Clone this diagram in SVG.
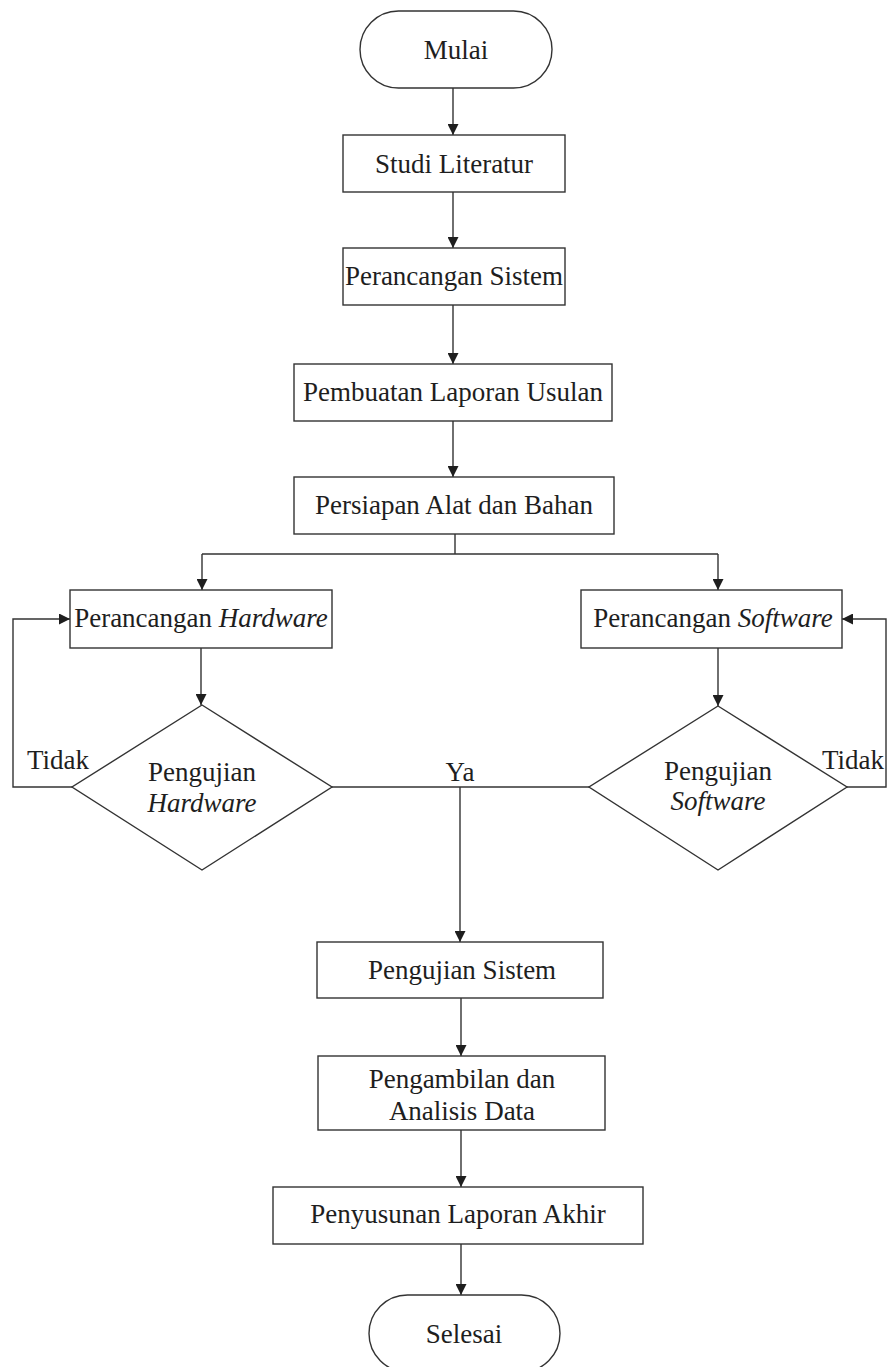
<svg xmlns="http://www.w3.org/2000/svg" width="887" height="1367" viewBox="0 0 887 1367">
<style>
.box{fill:#fff;stroke:#333;stroke-width:1.4}
.ln{fill:none;stroke:#333;stroke-width:1.4}
.t{font-family:"Liberation Serif","Times New Roman",serif;font-size:27px;fill:#1e1e1e;text-anchor:middle}
.it{font-style:italic}
.l{text-anchor:start}
</style>
<defs>
<marker id="ah" markerUnits="userSpaceOnUse" markerWidth="11" markerHeight="11" refX="11" refY="5.5" orient="auto">
<path d="M0,0 L11,5.5 L0,11 z" fill="#1e1e1e"/>
</marker>
</defs>
<rect width="887" height="1367" fill="#fff"/>
<g id="connectors">
<path class="ln" d="M453,88 V135" marker-end="url(#ah)"/>
<path class="ln" d="M453,192 V248" marker-end="url(#ah)"/>
<path class="ln" d="M453,305 V364" marker-end="url(#ah)"/>
<path class="ln" d="M453,421 V477" marker-end="url(#ah)"/>
<path class="ln" d="M455,534 V554 M202,554 H718"/>
<path class="ln" d="M202,554 V590" marker-end="url(#ah)"/>
<path class="ln" d="M718,554 V590" marker-end="url(#ah)"/>
<path class="ln" d="M201,648 V705" marker-end="url(#ah)"/>
<path class="ln" d="M718,648 V706" marker-end="url(#ah)"/>
<path class="ln" d="M72,787 H13 V619 H70" marker-end="url(#ah)"/>
<path class="ln" d="M847,787 H886 V619 H842" marker-end="url(#ah)"/>
<path class="ln" d="M332,787 H589"/>
<path class="ln" d="M460,787 V942" marker-end="url(#ah)"/>
<path class="ln" d="M461,998 V1056" marker-end="url(#ah)"/>
<path class="ln" d="M461,1130 V1187" marker-end="url(#ah)"/>
<path class="ln" d="M461,1244 V1295" marker-end="url(#ah)"/>
<text class="t l" x="27" y="769">Tidak</text>
<text class="t l" x="822" y="769">Tidak</text>
<text class="t" x="460" y="781">Ya</text>
</g>
<g id="mulai">
<rect class="box" x="360" y="11" width="192" height="77" rx="38.5"/>
<text class="t" x="456" y="59">Mulai</text>
</g>
<g id="studi">
<rect class="box" x="343" y="135" width="222" height="57"/>
<text class="t" x="454" y="173">Studi Literatur</text>
</g>
<g id="perancangan-sistem">
<rect class="box" x="343" y="248" width="222" height="57"/>
<text class="t" x="454" y="285">Perancangan Sistem</text>
</g>
<g id="pembuatan">
<rect class="box" x="294" y="364" width="318" height="57"/>
<text class="t" x="453" y="401">Pembuatan Laporan Usulan</text>
</g>
<g id="persiapan">
<rect class="box" x="294" y="477" width="320" height="57"/>
<text class="t" x="454" y="514">Persiapan Alat dan Bahan</text>
</g>
<g id="perancangan-hardware">
<rect class="box" x="70" y="590" width="262" height="58"/>
<text class="t" x="201" y="627">Perancangan <tspan class="it">Hardware</tspan></text>
</g>
<g id="perancangan-software">
<rect class="box" x="581" y="590" width="261" height="58"/>
<text class="t" x="713" y="627">Perancangan <tspan class="it">Software</tspan></text>
</g>
<g id="pengujian-hardware">
<polygon class="box" points="202,705 332,787 202,870 72,787"/>
<text class="t" x="202" y="781">Pengujian</text>
<text class="t it" x="202" y="812">Hardware</text>
</g>
<g id="pengujian-software">
<polygon class="box" points="718,706 847,787 718,870 589,787"/>
<text class="t" x="718" y="780">Pengujian</text>
<text class="t it" x="718" y="810">Software</text>
</g>
<g id="pengujian-sistem">
<rect class="box" x="317" y="942" width="286" height="56"/>
<text class="t" x="462" y="979">Pengujian Sistem</text>
</g>
<g id="pengambilan">
<rect class="box" x="318" y="1056" width="287" height="74"/>
<text class="t" x="462" y="1088">Pengambilan dan</text>
<text class="t" x="462" y="1120">Analisis Data</text>
</g>
<g id="penyusunan">
<rect class="box" x="273" y="1187" width="370" height="57"/>
<text class="t" x="458" y="1223">Penyusunan Laporan Akhir</text>
</g>
<g id="selesai">
<rect class="box" x="369" y="1295" width="191" height="77" rx="38.5"/>
<text class="t" x="464" y="1343">Selesai</text>
</g>
</svg>
